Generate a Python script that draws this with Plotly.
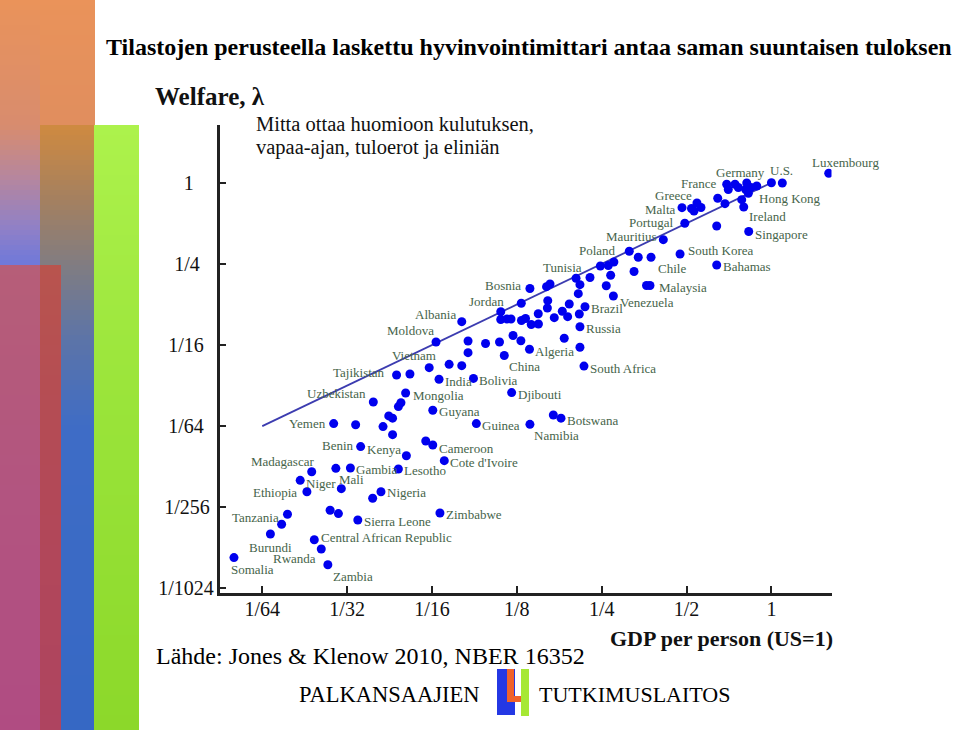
import math
import numpy as np
import plotly.graph_objects as go

W, H = 960, 730

# ---------------- data ----------------
country = [
    "Somalia", "Burundi", "", "Tanzania", "Ethiopia", "Niger", "Madagascar", "Mali", "", "Gambia",
    "", "", "Central African Republic", "Rwanda", "Zambia", "Sierra Leone", "Nigeria", "", "Lesotho", "Kenya",
    "Benin", "Yemen", "", "", "", "", "", "Uzbekistan", "", "",
    "Mongolia", "Tajikistan", "", "Vietnam", "Moldova", "", "Cameroon", "Cote d'Ivoire", "Guyana", "Guinea",
    "Zimbabwe", "India", "Bolivia", "", "", "", "", "", "", "",
    "China", "", "Algeria", "Djibouti", "Albania", "Jordan", "", "", "", "",
    "", "", "", "", "", "Bosnia", "", "", "", "",
    "", "", "", "", "", "Tunisia", "", "", "", "",
    "Brazil", "Russia", "", "South Africa", "Namibia", "", "Botswana", "", "", "",
    "", "", "Venezuela", "Poland", "", "Chile", "", "South Korea", "", "Malaysia",
    "Mauritius", "Portugal", "Malta", "", "", "Greece", "", "", "", "",
    "Bahamas", "France", "Germany", "", "", "", "", "", "", "",
    "Hong Kong", "Ireland", "Singapore", "U.S.", "", "Luxembourg",
]
gdp_per_person = [
    0.0124, 0.0167, 0.0183, 0.0192, 0.0225, 0.0213, 0.0234, 0.0298, 0.0285, 0.0321,
    0.0272, 0.0291, 0.0239, 0.0253, 0.0267, 0.0341, 0.0412, 0.0385, 0.0475, 0.0507,
    0.0349, 0.0280, 0.0335, 0.0419, 0.0439, 0.0453, 0.0453, 0.0387, 0.0475, 0.0485,
    0.0504, 0.0468, 0.0522, 0.0611, 0.0646, 0.0594, 0.0629, 0.0691, 0.0629, 0.0898,
    0.0667, 0.0662, 0.0877, 0.0719, 0.0797, 0.0839, 0.0839, 0.0968, 0.1085, 0.1212,
    0.1128, 0.1292, 0.1386, 0.1198, 0.0797, 0.1096, 0.1096, 0.1153, 0.1192, 0.1298,
    0.1342, 0.1406, 0.1491, 0.1489, 0.1296, 0.1391, 0.1593, 0.1639, 0.1609, 0.1604,
    0.1918, 0.1812, 0.1893, 0.1697, 0.1841, 0.2027, 0.2093, 0.2272, 0.2065, 0.2082,
    0.2181, 0.2093, 0.2093, 0.2163, 0.1391, 0.1684, 0.1793, 0.2473, 0.2638, 0.2761,
    0.2690, 0.2595, 0.2750, 0.3132, 0.3370, 0.3740, 0.3256, 0.4741, 0.3605, 0.3709,
    0.4135, 0.4929, 0.4817, 0.5205, 0.5313, 0.5443, 0.5626, 0.6449, 0.6843, 0.6396,
    0.6396, 0.6940, 0.7428, 0.7631, 0.7030, 0.8174, 0.8106, 0.8465, 0.8870, 0.8283,
    0.7846, 0.7976, 0.8307, 1.0000, 1.0930, 1.5970,
]
welfare = [
    0.00165, 0.00247, 0.00292, 0.00346, 0.00509, 0.00618, 0.00716, 0.00536, 0.00759, 0.00764,
    0.00371, 0.00350, 0.00224, 0.00191, 0.00146, 0.00314, 0.00509, 0.00455, 0.00751, 0.00942,
    0.0110, 0.0163, 0.0160, 0.0155, 0.0186, 0.0179, 0.0135, 0.0236, 0.0218, 0.0233,
    0.0275, 0.0374, 0.0381, 0.0424, 0.0658, 0.0121, 0.0113, 0.00865, 0.0205, 0.0163,
    0.00354, 0.0348, 0.0353, 0.0449, 0.0439, 0.0669, 0.0548, 0.0641, 0.0658, 0.0735,
    0.0522, 0.0672, 0.0581, 0.0277, 0.0931, 0.1104, 0.0966, 0.0975, 0.0975, 0.0950,
    0.0983, 0.0887, 0.0895, 0.1067, 0.1275, 0.1641, 0.1693, 0.1773, 0.1333, 0.1176,
    0.1260, 0.1112, 0.1014, 0.0997, 0.0701, 0.1957, 0.1752, 0.1982, 0.1502, 0.1061,
    0.1202, 0.0854, 0.0601, 0.0436, 0.0161, 0.0189, 0.0179, 0.2412, 0.2433, 0.2583,
    0.2058, 0.1720, 0.1444, 0.3100, 0.2799, 0.2799, 0.2196, 0.2960, 0.1728, 0.1728,
    0.3782, 0.5003, 0.6534, 0.6444, 0.6176, 0.7079, 0.6557, 0.7675, 0.6998, 0.4779,
    0.2454, 0.9747, 0.9747, 0.9228, 0.8920, 0.9966, 0.8920, 0.9228, 0.9467, 0.8357,
    0.7493, 0.6612, 0.4350, 1.0000, 0.9966, 1.1760,
]

# 45-degree reference line (welfare = GDP)
line_x = [1 / 64, 1]
line_y = [1 / 64, 1]

x_tick_vals = [1 / 64, 1 / 32, 1 / 16, 1 / 8, 1 / 4, 1 / 2, 1]
x_tick_text = ["1/64", "1/32", "1/16", "1/8", "1/4", "1/2", "1"]
y_tick_vals = [1 / 1024, 1 / 256, 1 / 64, 1 / 16, 1 / 4, 1]
y_tick_text = ["1/1024", "1/256", "1/64", "1/16", "1/4", "1"]

title_text = "Tilastojen perusteella laskettu hyvinvointimittari antaa saman suuntaisen tuloksen"
note_lines = ["Mitta ottaa huomioon kulutuksen,", "vapaa-ajan, tuloerot ja eliniän"]
source_text = "Lähde: Jones &amp; Klenow 2010, NBER 16352"
y_title = "Welfare, λ"
x_title = "GDP per person (US=1)"

# ---------------- label placement (pixels: anchor, dx, dy-down) ----------------
label_pos = {
    "Somalia": ("left", -4, 12), "Burundi": ("center", 0, 13), "Tanzania": ("right", -7, 3),
    "Ethiopia": ("right", -9, 1), "Niger": ("left", 5, 3), "Madagascar": ("right", 3, -10),
    "Mali": ("left", -3, -9), "Gambia": ("left", 5, 2), "Central African Republic": ("left", 6, -2),
    "Rwanda": ("right", -4, 9), "Zambia": ("left", 4, 12), "Sierra Leone": ("left", 5, 2),
    "Nigeria": ("left", 5, 1), "Lesotho": ("left", 5, 2), "Kenya": ("right", -4, -6),
    "Benin": ("right", -6, -1), "Yemen": ("right", -7, 0), "Uzbekistan": ("right", -6, -8),
    "Mongolia": ("left", 6, 2), "Tajikistan": ("right", -11, -3), "Vietnam": ("right", 8, -12),
    "Moldova": ("right", -1, -11), "Albania": ("right", -5, -7), "India": ("left", 5, 2),
    "Bolivia": ("left", 5, 2), "Guyana": ("left", 5, 1), "Cameroon": ("left", 5, 3),
    "Cote d'Ivoire": ("left", 5, 2), "Zimbabwe": ("left", 5, 2), "Guinea": ("left", 5, 2),
    "Djibouti": ("left", 5, 2), "China": ("left", 4, 11), "Algeria": ("left", 5, 2),
    "Namibia": ("left", 3, 11), "Botswana": ("left", 5, 2), "South Africa": ("left", 5, 2),
    "Russia": ("left", 5, 2), "Brazil": ("left", 5, 2), "Venezuela": ("left", 6, 6),
    "Jordan": ("right", 4, -10), "Bosnia": ("right", -8, -3), "Tunisia": ("right", 7, -11),
    "Poland": ("right", -12, -1), "Mauritius": ("right", -5, -3), "Malaysia": ("left", 8, 2),
    "Chile": ("left", 6, 11), "South Korea": ("left", 7, -4), "Bahamas": ("left", 5, 2),
    "Portugal": ("right", -11, -1), "Malta": ("right", -5, 2), "Greece": ("right", -4, -8),
    "France": ("right", -9, -1), "Germany": ("center", 5, -12), "Hong Kong": ("left", 16, -1),
    "Ireland": ("left", 4, 10), "Singapore": ("left", 5, 3), "U.S.": ("left", -2, -12),
    "Luxembourg": ("center", 17, -11),
}

SERIF = "Liberation Serif, Times New Roman, serif"
LABEL_COLOR = "#46644a"


def px_x(p):
    return p / W


def px_y(p):
    return 1 - p / H


# plot area in pixels
X0, X1 = 219.5, 831.5
Y0, Y1 = 125, 593

fig = go.Figure()

fig.add_trace(go.Scatter(
    x=line_x, y=line_y, mode="lines",
    line=dict(color="#3c3cb0", width=1.8), hoverinfo="skip", showlegend=False,
))
fig.add_trace(go.Scatter(
    x=gdp_per_person, y=welfare, mode="markers",
    marker=dict(color="#0000ee", size=9, line=dict(width=0)),
    text=country, showlegend=False,
))

annotations = []
for name, gx, wy in zip(country, gdp_per_person, welfare):
    if not name:
        continue
    anc, dx, dy = label_pos[name]
    annotations.append(dict(
        x=math.log10(gx), y=math.log10(wy), xref="x", yref="y",
        text=name, showarrow=False, xanchor=anc, yanchor="middle",
        xshift=dx, yshift=-dy, borderpad=0,
        font=dict(family=SERIF, size=13, color=LABEL_COLOR),
    ))


def paper_text(x, y, text, size, anchor="left", bold=False, color="#000000"):
    return dict(x=px_x(x), y=px_y(y), xref="paper", yref="paper",
                text=("<b>" + text + "</b>") if bold else text,
                showarrow=False, xanchor=anchor, yanchor="middle", borderpad=0,
                font=dict(family=SERIF, size=size, color=color))


annotations += [
    paper_text(105, 47, title_text, 24, bold=True),
    paper_text(154, 97, y_title, 25, bold=True, color="#111111"),
    paper_text(834, 638, x_title, 22, anchor="right", bold=True, color="#111111"),
    paper_text(255, 124, note_lines[0], 20.5, color="#111111"),
    paper_text(255, 147, note_lines[1], 20.5, color="#111111"),
    paper_text(155, 656, source_text, 24),
    paper_text(298, 694, "PALKANSAAJIEN", 22.5),
    paper_text(538, 694, "TUTKIMUSLAITOS", 22),
]

# y tick labels: centre them like the original using figure spaces
FS = "\u2007"
y_tick_text_disp = [y_tick_text[0], y_tick_text[1] + "\u2009", y_tick_text[2] + FS,
                    y_tick_text[3] + FS, y_tick_text[4] + FS + "\u2009", y_tick_text[5] + FS + FS]

# ---------------- decorative stripes ----------------
shapes = []


def hex2rgb(h):
    h = h.lstrip("#")
    return tuple(int(h[i:i + 2], 16) for i in (0, 2, 4))


def color_at(stops, y):
    ys = [s[0] for s in stops]
    cs = [hex2rgb(s[1]) for s in stops]
    r = np.interp(y, ys, [c[0] for c in cs])
    g = np.interp(y, ys, [c[1] for c in cs])
    b = np.interp(y, ys, [c[2] for c in cs])
    return "rgb(%d,%d,%d)" % (round(r), round(g), round(b))


def gradient(x0, x1, y0, y1, stops, step=5):
    yy = y0
    while yy < y1:
        yb = min(yy + step, y1)
        col = color_at(stops, (yy + yb) / 2)
        shapes.append(dict(type="rect", xref="paper", yref="paper",
                           x0=px_x(x0), x1=px_x(x1), y0=px_y(yy), y1=px_y(min(yb + 1, y1)),
                           fillcolor=col, line=dict(width=0), layer="below"))
        yy = yb


gradient(0, 41, 0, 265, [(0, "#ea935a"), (125, "#d88c6e"), (180, "#b486a0"),
                         (230, "#8e80c8"), (265, "#6e78da")])
gradient(40, 95, 0, 730, [(0, "#ea935a"), (124, "#e08e5e"), (126, "#cf8a40"), (200, "#a48060"),
                          (270, "#7e7c84"), (340, "#5c74a8"), (430, "#3e6cc6"), (730, "#3668c4")])
gradient(0, 41, 265, 730, [(265, "#b65e78"), (500, "#b25480"), (730, "#b04c82")])
gradient(40, 61, 265, 730, [(265, "#b8544e"), (500, "#b24858"), (730, "#ae4460")])
gradient(94, 139, 125, 730, [(125, "#adf24c"), (400, "#9ae43a"), (730, "#8cd82a")])

# logo blocks
shapes += [
    dict(type="rect", xref="paper", yref="paper", x0=px_x(497), x1=px_x(515), y0=px_y(715),
         y1=px_y(669), fillcolor="#2438e4", line=dict(width=0)),
    dict(type="rect", xref="paper", yref="paper", x0=px_x(507), x1=px_x(514), y0=px_y(702),
         y1=px_y(669), fillcolor="#f0622a", line=dict(width=0)),
    dict(type="rect", xref="paper", yref="paper", x0=px_x(507), x1=px_x(522), y0=px_y(702),
         y1=px_y(696), fillcolor="#f0622a", line=dict(width=0)),
    dict(type="rect", xref="paper", yref="paper", x0=px_x(521), x1=px_x(529), y0=px_y(716),
         y1=px_y(669), fillcolor="#a6e834", line=dict(width=0)),
]

x_range = [math.log10(2 ** -6.504), math.log10(2 ** 0.708)]
y_range = [math.log10(2 ** -10.116), math.log10(2 ** 1.425)]

fig.update_layout(
    width=W, height=H,
    margin=dict(l=0, r=0, t=0, b=0),
    paper_bgcolor="#ffffff", plot_bgcolor="rgba(0,0,0,0)",
    showlegend=False,
    annotations=annotations,
    shapes=shapes,
    xaxis=dict(
        type="log", range=x_range, domain=[X0 / W, X1 / W], automargin=False,
        tickvals=x_tick_vals, ticktext=x_tick_text, ticks="inside", ticklen=7, tickwidth=2,
        tickcolor="#222222", showline=True, linecolor="#222222", linewidth=2.5,
        showgrid=False, zeroline=False, ticklabelstandoff=-4,
        tickfont=dict(family=SERIF, size=20, color="#111111"),
    ),
    yaxis=dict(
        type="log", range=y_range, domain=[1 - Y1 / H, 1 - Y0 / H], automargin=False,
        tickvals=y_tick_vals, ticktext=y_tick_text_disp, ticks="inside", ticklen=7, tickwidth=2,
        tickcolor="#222222", showline=True, linecolor="#222222", linewidth=2.5,
        showgrid=False, zeroline=False, ticklabelstandoff=-1,
        tickfont=dict(family=SERIF, size=20, color="#111111"),
    ),
)

fig.write_html(
    "out.html",
    config={"displayModeBar": False},
    post_script="document.body.style.margin='0';document.body.style.padding='0';",
)
